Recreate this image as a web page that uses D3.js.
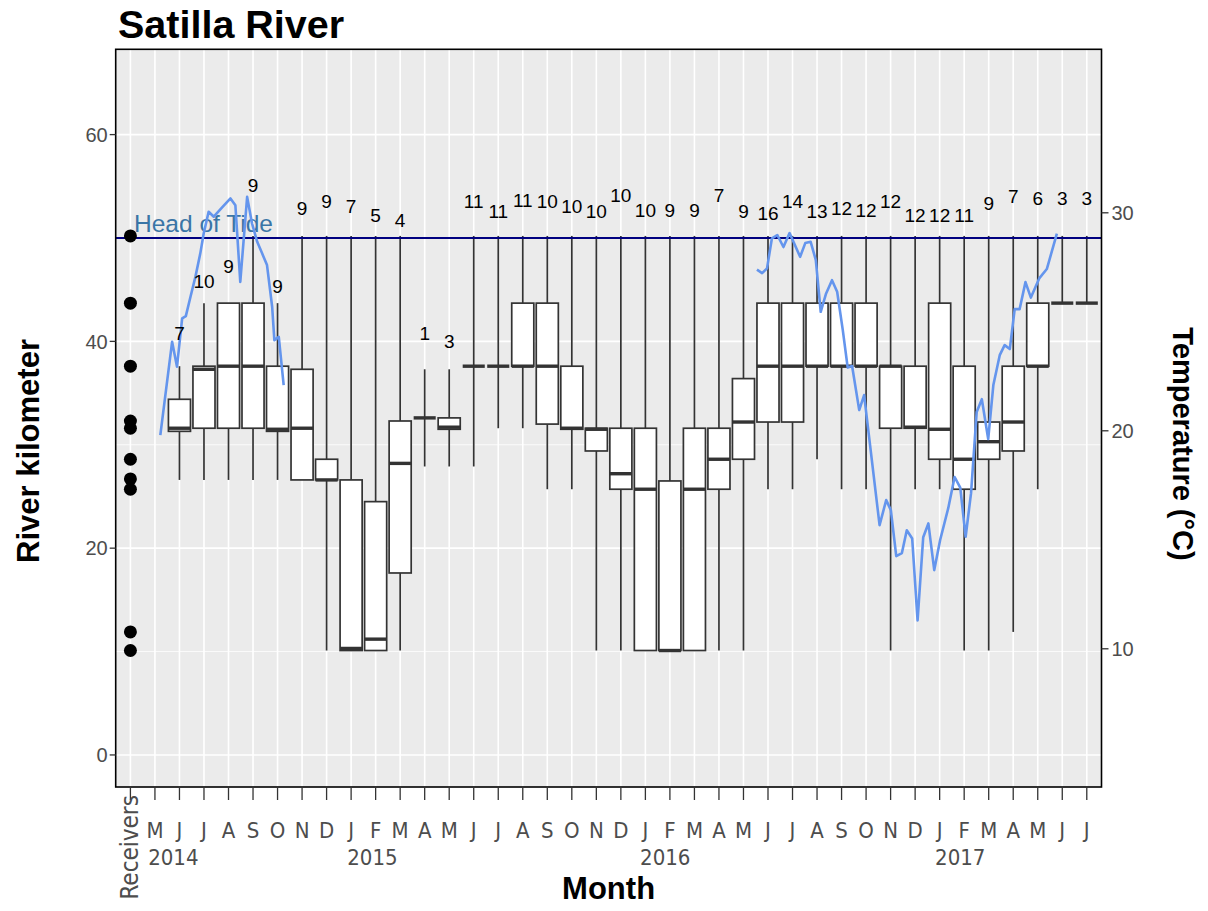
<!DOCTYPE html>
<html>
<head>
<meta charset="utf-8">
<script src="https://cdn.jsdelivr.net/npm/d3@7"></script>
<style>
  body { margin: 0; background: #fff; }
  svg text { font-family: "Liberation Sans", Arial, sans-serif; }
</style>
</head>
<body>
<div id="chart"></div>
<script>
// categories on the x axis (Receivers + May 2014 .. Jul 2017)
const tickLabels = ["Receivers","M","J","J","A","S","O","N","D",
  "J","F","M","A","M","J","J","A","S","O","N","D",
  "J","F","M","A","M","J","J","A","S","O","N","D",
  "J","F","M","A","M","J","J"];
const yearLabels = ["2014","2015","2016","2017"];
const yearPos = [1.75, 9.87, 21.81, 33.84]; // position on the month axis

// receiver locations (river km)
const receivers = [50.2, 43.7, 37.6, 32.3, 31.6, 28.6, 26.7, 25.7, 11.9, 10.1];

// monthly boxplots, category index 2..39
const boxCat = d3.range(2, 40);
const whiskLo = [26.6,26.6,26.6,26.6,26.6,26.6,10.1,10.1,10.1,10.1,27.9,27.9,27.9,31.6,31.6,25.7,25.7,10.1,10.1,10.1,
  10.1,10.1,10.1,10.1,25.7,25.7,28.6,25.7,25.7,10.1,25.7,25.7,10.1,10.1,11.9,25.7,43.7,43.7];
const q1 = [31.3,31.6,31.6,31.6,31.3,26.6,26.6,10.1,10.1,17.6,32.6,31.5,37.6,37.6,37.6,32.0,31.5,29.4,25.7,10.1,
  10.1,10.1,25.7,28.6,32.2,32.2,37.6,37.6,37.6,31.6,31.6,28.6,25.7,28.6,29.4,37.6,43.7,43.7];
const med = [31.6,37.3,37.6,37.6,31.5,31.6,26.6,10.3,11.2,28.2,32.6,31.7,37.6,37.6,37.6,37.6,31.6,31.5,27.2,25.7,
  10.1,25.7,28.6,32.2,37.6,37.6,37.6,37.6,37.6,37.6,31.7,31.5,28.6,30.3,32.2,37.6,43.7,43.7];
const q3 = [34.4,37.6,43.7,43.7,37.6,37.3,28.6,26.6,24.5,32.3,32.6,32.6,37.6,37.6,43.7,43.7,37.6,31.6,31.6,31.6,
  26.5,31.6,31.6,36.4,43.7,43.7,43.7,43.7,43.7,37.6,37.6,43.7,37.6,32.2,37.6,43.7,43.7,43.7];
const whiskHi = [37.6,43.7,43.7,50.2,43.7,50.2,50.2,50.2,50.2,50.2,37.3,37.3,50.2,50.2,50.2,50.2,50.2,50.2,50.2,50.2,
  50.2,50.2,50.2,50.2,50.2,50.2,50.2,50.2,50.2,50.2,50.2,50.2,50.2,50.2,50.2,50.2,50.2,50.2];
const nFish = [7,10,9,9,9,9,9,7,5,4,1,3,11,11,11,10,10,10,10,10,9,9,7,9,16,14,13,12,12,12,12,12,11,9,7,6,3,3];
const labelKm = [40.83,45.79,47.31,55.14,45.38,52.92,53.53,53.05,52.24,51.76,40.83,39.99,53.53,52.56,53.69,53.53,53.05,52.56,54.18,52.73,
  52.73,52.73,54.18,52.56,52.41,53.53,52.56,52.92,52.73,53.53,52.24,52.24,52.24,53.37,54.01,53.86,53.86,53.86];

// water temperature (weekly), position in months on the same axis
const temp1Pos = [1.22,1.70,1.90,2.11,2.26,2.45,2.65,2.85,2.99,3.19,3.40,3.75,4.08,4.28,4.48,4.76,4.96,5.17,5.37,5.57,5.78,5.87,6.05,6.25];
const temp1 = [19.80,24.08,22.94,25.16,25.26,26.15,27.06,28.14,29.06,30.05,29.82,30.26,30.66,30.35,26.83,30.73,29.51,28.67,28.14,27.60,25.69,24.16,24.31,22.10];
const temp2Pos = [25.55,25.76,25.96,26.16,26.38,26.63,26.88,27.31,27.52,27.74,27.95,28.15,28.37,28.61,28.82,29.05,29.25,29.43,29.72,29.92,
  30.55,30.82,31.01,31.23,31.46,31.66,31.88,32.10,32.33,32.54,32.78,33.02,33.35,33.61,33.84,34.06,34.28,34.51,34.72,34.98,
  35.19,35.45,35.65,35.86,36.06,36.26,36.50,36.72,37.06,37.37,37.78];
const temp2 = [27.39,27.23,27.45,28.83,28.98,28.43,29.07,27.98,28.61,28.67,27.83,25.46,26.30,26.91,26.38,24.62,22.90,22.97,20.95,21.64,
  15.67,16.82,16.36,14.25,14.39,15.44,15.06,11.30,15.12,15.75,13.61,14.99,16.45,17.88,17.39,15.14,17.14,20.86,21.45,19.62,
  22.10,23.47,23.93,23.75,25.58,25.58,26.82,26.11,26.99,27.42,29.04];

const headOfTide = 50;
const yTicks = [0, 20, 40, 60];
const yMinor = [10, 30, 50];
const tTicks = [10, 20, 30];

// layout
const W = 1208, H = 911;
const pL = 115.7, pR = 1101.5, pT = 49.3, pB = 787;
const narrow = "'DejaVu Sans Condensed', 'Liberation Sans Narrow', sans-serif";

const svg = d3.select("#chart").append("svg")
  .attr("width", W).attr("height", H);

const cats = tickLabels.map((d, i) => i);
const x = d3.scalePoint().domain(cats).range([pL, pR]).padding(0.6);
const xNum = d3.scaleLinear().domain([0, cats.length - 1]).range([x(0), x(cats.length - 1)]);
const y = d3.scaleLinear().domain([-3.1, 68.25]).range([pB, pT]);
const yT = d3.scaleLinear().domain([3.66, 37.5]).range([pB, pT]);
const bw = x.step() * 0.9;

// panel
svg.append("rect").attr("x", pL).attr("y", pT)
  .attr("width", pR - pL).attr("height", pB - pT).attr("fill", "#EBEBEB");

const grid = svg.append("g");
grid.selectAll(".hmin").data(yMinor).join("line")
  .attr("x1", pL).attr("x2", pR)
  .attr("y1", d => y(d)).attr("y2", d => y(d))
  .attr("stroke", "#fff").attr("stroke-width", 0.8);
grid.selectAll(".hmaj").data(yTicks).join("line")
  .attr("x1", pL).attr("x2", pR)
  .attr("y1", d => y(d)).attr("y2", d => y(d))
  .attr("stroke", "#fff").attr("stroke-width", 1.6);
grid.selectAll(".v").data(cats).join("line")
  .attr("x1", d => x(d)).attr("x2", d => x(d))
  .attr("y1", pT).attr("y2", pB)
  .attr("stroke", "#fff").attr("stroke-width", 1.6);

// boxplots
const boxes = boxCat.map((c, i) => ({c, lo: whiskLo[i], q1: q1[i], med: med[i], q3: q3[i], hi: whiskHi[i], n: nFish[i], lab: labelKm[i]}));
const bg = svg.append("g");
bg.selectAll(".wu").data(boxes).join("line")
  .attr("x1", d => x(d.c)).attr("x2", d => x(d.c))
  .attr("y1", d => y(d.q3)).attr("y2", d => y(d.hi))
  .attr("stroke", "#333").attr("stroke-width", 1.7);
bg.selectAll(".wl").data(boxes).join("line")
  .attr("x1", d => x(d.c)).attr("x2", d => x(d.c))
  .attr("y1", d => y(d.q1)).attr("y2", d => y(d.lo))
  .attr("stroke", "#333").attr("stroke-width", 1.7);
bg.selectAll("rect").data(boxes).join("rect")
  .attr("x", d => x(d.c) - bw / 2).attr("width", bw)
  .attr("y", d => y(d.q3)).attr("height", d => y(d.q1) - y(d.q3))
  .attr("fill", "#fff").attr("stroke", "#333").attr("stroke-width", 1.7);
bg.selectAll(".md").data(boxes).join("line")
  .attr("x1", d => x(d.c) - bw / 2).attr("x2", d => x(d.c) + bw / 2)
  .attr("y1", d => y(d.med)).attr("y2", d => y(d.med))
  .attr("stroke", "#333").attr("stroke-width", 3.4);

// head of tide
svg.append("line").attr("x1", pL).attr("x2", pR)
  .attr("y1", y(headOfTide)).attr("y2", y(headOfTide))
  .attr("stroke", "#000080").attr("stroke-width", 2);
svg.append("text").attr("x", 134).attr("y", y(headOfTide) - 6)
  .attr("fill", "#3A75A6").attr("font-size", 24.5).text("Head of Tide");

// receivers
svg.append("g").selectAll("circle").data(receivers).join("circle")
  .attr("cx", x(0)).attr("cy", d => y(d)).attr("r", 6.5).attr("fill", "#000");

// temperature line
const line = d3.line().x(d => xNum(d[0])).y(d => yT(d[1]));
[[temp1Pos, temp1], [temp2Pos, temp2]].forEach(([p, t]) => {
  svg.append("path").datum(p.map((v, i) => [v, t[i]]))
    .attr("d", line).attr("fill", "none")
    .attr("stroke", "#6495ED").attr("stroke-width", 2.6)
    .attr("stroke-linejoin", "round");
});

// counts
svg.append("g").selectAll("text").data(boxes).join("text")
  .attr("x", d => x(d.c)).attr("y", d => y(d.lab))
  .attr("text-anchor", "middle").attr("dy", "0.36em")
  .attr("font-size", 19).attr("fill", "#000").text(d => d.n);

// border
svg.append("rect").attr("x", pL).attr("y", pT)
  .attr("width", pR - pL).attr("height", pB - pT)
  .attr("fill", "none").attr("stroke", "#000").attr("stroke-width", 1.6);

// left axis
const ax = svg.append("g");
ax.selectAll(".lt").data(yTicks).join("line")
  .attr("x1", pL - 6).attr("x2", pL).attr("y1", d => y(d)).attr("y2", d => y(d))
  .attr("stroke", "#333").attr("stroke-width", 1.3);
ax.selectAll(".ll").data(yTicks).join("text")
  .attr("x", pL - 8).attr("y", d => y(d)).attr("dy", "0.36em")
  .attr("text-anchor", "end").attr("font-size", 20).attr("fill", "#4D4D4D").text(d => d);
// right axis
ax.selectAll(".rt").data(tTicks).join("line")
  .attr("x1", pR).attr("x2", pR + 7).attr("y1", d => yT(d)).attr("y2", d => yT(d))
  .attr("stroke", "#333").attr("stroke-width", 1.3);
ax.selectAll(".rl").data(tTicks).join("text")
  .attr("x", pR + 10).attr("y", d => yT(d)).attr("dy", "0.36em")
  .attr("text-anchor", "start").attr("font-size", 20).attr("fill", "#4D4D4D").text(d => d);
// bottom axis
ax.selectAll(".bt").data(cats).join("line")
  .attr("x1", d => x(d)).attr("x2", d => x(d)).attr("y1", pB).attr("y2", pB + 13)
  .attr("stroke", "#333").attr("stroke-width", 1.3);
ax.selectAll(".bl").data(cats.slice(1)).join("text")
  .attr("x", d => x(d)).attr("y", 838)
  .attr("text-anchor", "middle").attr("font-size", 22).attr("fill", "#4D4D4D")
  .style("font-family", narrow)
  .text(d => tickLabels[d]);
ax.append("text")
  .attr("transform", `translate(${x(0) + 8},795) rotate(-90)`)
  .attr("text-anchor", "end").attr("font-size", 24).attr("fill", "#4D4D4D")
  .style("font-family", narrow)
  .text(tickLabels[0]);
ax.selectAll(".yr").data(yearLabels).join("text")
  .attr("x", (d, i) => xNum(yearPos[i])).attr("y", 865)
  .attr("text-anchor", "middle").attr("font-size", 22).attr("fill", "#4D4D4D")
  .style("font-family", narrow)
  .text(d => d);

// titles
svg.append("text").attr("x", 118).attr("y", 38)
  .attr("font-size", 39.5).attr("font-weight", "bold").text("Satilla River");
svg.append("text").attr("x", (pL + pR) / 2).attr("y", 899)
  .attr("text-anchor", "middle").attr("font-size", 31).attr("font-weight", "bold").text("Month");
svg.append("text").attr("transform", "translate(39,451) rotate(-90)")
  .attr("text-anchor", "middle").attr("font-size", 31).attr("font-weight", "bold").text("River kilometer");
svg.append("text").attr("transform", "translate(1173,444) rotate(90)")
  .attr("text-anchor", "middle").attr("font-size", 29).attr("font-weight", "bold").text("Temperature (°C)");
</script>
</body>
</html>
